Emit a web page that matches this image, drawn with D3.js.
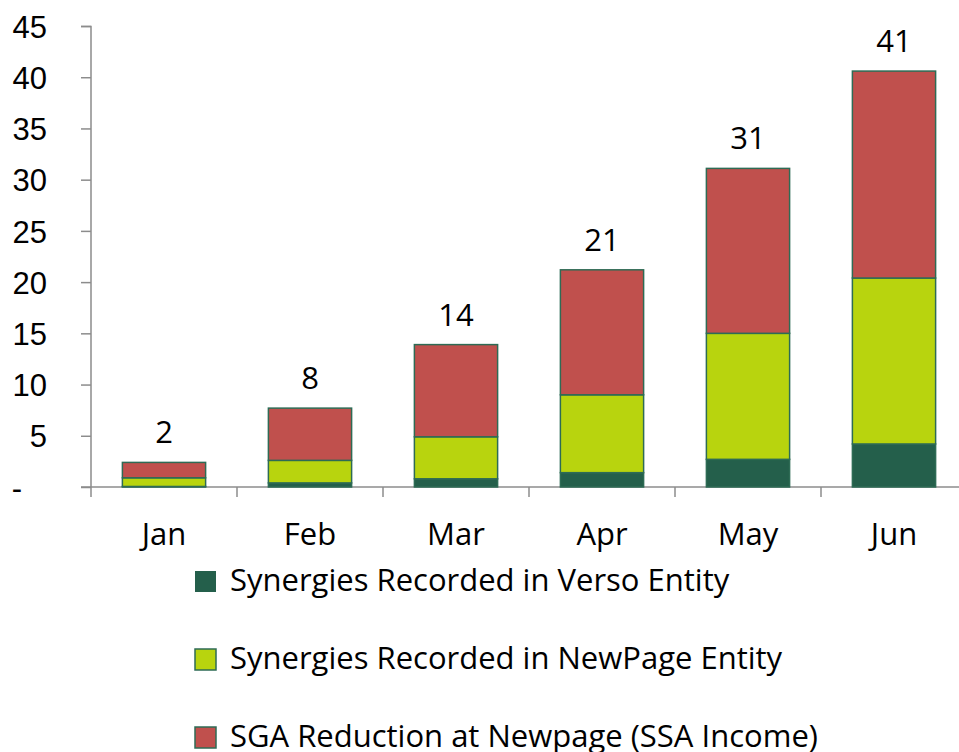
<!DOCTYPE html>
<html><head><meta charset="utf-8">
<script src="https://cdn.jsdelivr.net/npm/d3@7"></script>
<style>body{margin:0;background:#fff}svg{display:block;font-family:"Open Sans",Lato,sans-serif}</style>
</head><body>
<svg id="c" width="959" height="752"></svg>
<script>
const categories = ["Jan","Feb","Mar","Apr","May","Jun"];
const verso   = [0.05, 0.4, 0.8, 1.4, 2.7, 4.2];
const newpage = [0.85, 2.2, 4.1, 7.6, 12.3, 16.2];
const sga     = [1.5, 5.1, 9.0, 12.2, 16.1, 20.2];
const totalLabels = ["2","8","14","21","31","41"];
const seriesNames = ["Synergies Recorded in Verso Entity","Synergies Recorded in NewPage Entity","SGA Reduction at Newpage (SSA Income)"];
const colors = ["#245F4B","#B8D40E","#C0504D"];
const yTicks = [0,5,10,15,20,25,30,35,40,45];

const FS = 31;
const svg = d3.select("#c");
const x = d3.scaleBand().domain(categories).range([91, 967]).paddingInner(0).paddingOuter(0);
const y = d3.scaleLinear().domain([0,45]).range([487, 26]);
const barW = x.bandwidth()*0.57;

const rows = categories.map((c,i)=>({cat:c, verso:verso[i], newpage:newpage[i], sga:sga[i]}));
const stack = d3.stack().keys(["verso","newpage","sga"])(rows);

// axes
const gy = svg.append("g").attr("transform","translate(91,0)")
  .call(d3.axisLeft(y).tickValues(yTicks).tickSize(10).tickPadding(12).tickFormat(d=>d===0?"-":d));
gy.select(".domain").attr("stroke","#8c8c8c").attr("stroke-width",1.5).attr("d","M-10,26.5H0V487");
gy.selectAll(".tick line").attr("stroke","#8c8c8c").attr("stroke-width",1.5);
gy.selectAll(".tick text").attr("font-size",FS).attr("fill","#000").attr("dy","0.36em")
  .attr("x",d=>d===0?-69:-44);

const gx = svg.append("g").attr("transform","translate(0,487)");
gx.append("line").attr("x1",81).attr("x2",967).attr("y1",0).attr("y2",0).attr("stroke","#8c8c8c").attr("stroke-width",1.5);
const bounds = categories.map(c=>x(c)).concat([x(categories[5])+x.bandwidth()]);
gx.selectAll("line.t").data(bounds).join("line").attr("class","t")
  .attr("x1",d=>d).attr("x2",d=>d).attr("y1",0).attr("y2",10).attr("stroke","#8c8c8c").attr("stroke-width",1.5);
gx.selectAll("text").data(categories).join("text")
  .attr("x",d=>x(d)+x.bandwidth()/2).attr("y",58).attr("text-anchor","middle")
  .attr("font-size",FS).attr("fill","#000").text(d=>d);

// bars
stack.forEach((s,si)=>{
  svg.append("g").selectAll("rect").data(s).join("rect")
    .attr("x",d=>x(d.data.cat)+(x.bandwidth()-barW)/2)
    .attr("width",barW)
    .attr("y",d=>y(d[1]))
    .attr("height",d=>Math.max(0,y(d[0])-y(d[1])))
    .attr("fill",colors[si])
    .attr("stroke","#2E6B55").attr("stroke-width",1.5);
});

// total labels
svg.append("g").selectAll("text").data(rows).join("text")
  .attr("x",d=>x(d.cat)+x.bandwidth()/2)
  .attr("y",d=>y(d.verso+d.newpage+d.sga)-19)
  .attr("text-anchor","middle").attr("font-size",FS).attr("fill","#000")
  .text((d,i)=>totalLabels[i]);

// legend
const lg = svg.append("g");
seriesNames.forEach((n,i)=>{
  const base = 591 + i*78;
  lg.append("rect").attr("x",195).attr("y",base-20).attr("width",21).attr("height",21)
    .attr("fill",colors[i]).attr("stroke", i===0?"none":"#2E6B55").attr("stroke-width",1.5);
  lg.append("text").attr("x",230).attr("y",base)
    .attr("font-size",FS).attr("fill","#000").text(n);
});
</script>
</body></html>
